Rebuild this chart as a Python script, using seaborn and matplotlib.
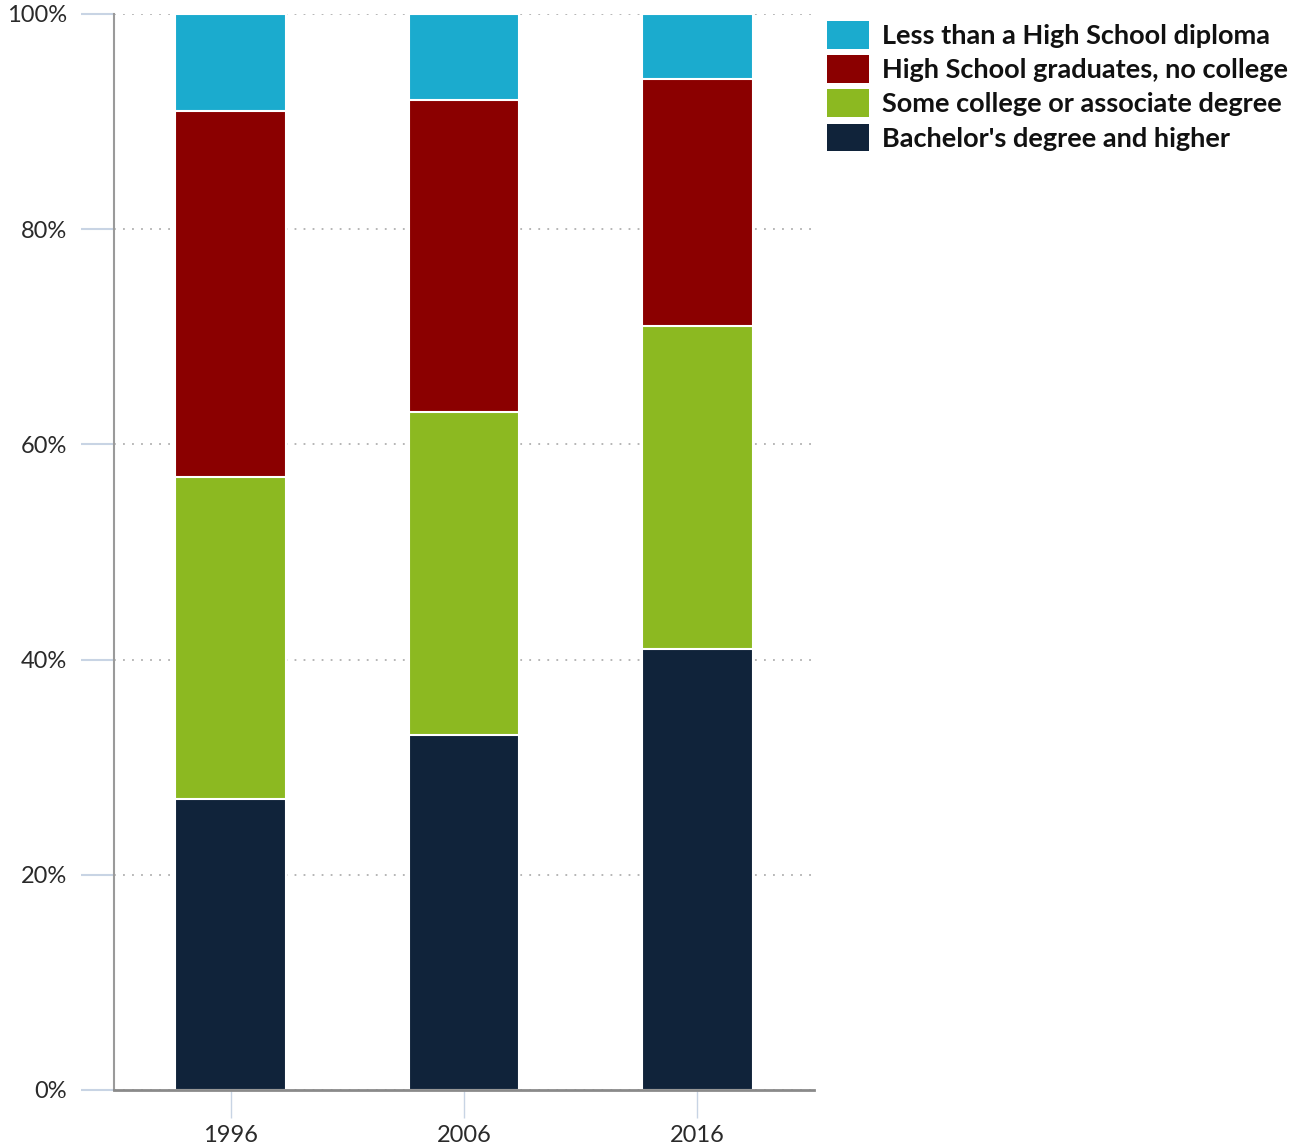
import numpy as np
import pandas as pd
import seaborn as sns
import matplotlib.pyplot as plt
from matplotlib.patches import Patch
from matplotlib.ticker import PercentFormatter

# Datos (porcentaje de cada nivel educativo por año)
years = ['1996', '2006', '2016']
categorias = ['Less than a High School diploma',
              'High School graduates, no college',
              'Some college or associate degree',
              "Bachelor's degree and higher"]
bachelor = [27, 33, 41]
some_college = [30, 30, 30]
hs_grad = [34, 29, 23]
less_hs = [9, 8, 6]
colores = ['#1babce', '#8b0000', '#8cb921', '#10233a']

sns.set_style('white')
plt.rcParams['font.family'] = ['Lato', 'DejaVu Sans']

fig = plt.figure(figsize=(13.04, 11.45), dpi=100)
ax = fig.add_axes([114 / 1304, 55 / 1145, 700 / 1304, 1076 / 1145])

# Apilar: se dibujan las sumas acumuladas de mayor a menor
capas = [bachelor, some_college, hs_grad, less_hs]
acum = np.cumsum(np.array(capas), axis=0)
orden = [3, 2, 1, 0]
for i in orden:
    df = pd.DataFrame({'year': years, 'valor': acum[i]})
    sns.barplot(data=df, x='year', y='valor', color=colores[3 - i], width=0.475,
                edgecolor='white', linewidth=1.5, saturation=1, ax=ax, zorder=2)

ax.set_xlim(-0.5, 2.5)
ax.set_ylim(0, 100)
ax.set_yticks([0, 20, 40, 60, 80, 100])
ax.yaxis.set_major_formatter(PercentFormatter(decimals=0))
ax.set_xlabel('')
ax.set_ylabel('')

ax.grid(axis='y', linestyle=(0, (1, 4)), color='#b0b0b0', linewidth=1.3, zorder=0)
ax.set_axisbelow(True)
for s in ['top', 'right']:
    ax.spines[s].set_visible(False)
ax.spines['left'].set_color('#9a9a9a')
ax.spines['left'].set_linewidth(1.5)
ax.spines['bottom'].set_color('#8a8a8a')
ax.spines['bottom'].set_linewidth(2)

ax.tick_params(axis='y', length=24, width=1.5, color='#c8d4e4', labelsize=17,
               labelcolor='#2a2a2a', pad=10, left=True)
ax.tick_params(axis='x', length=20, width=1, color='#c8d4e4', labelsize=17,
               labelcolor='#2a2a2a', pad=5, bottom=True)

handles = [Patch(facecolor=c, edgecolor='none') for c in colores]
leg = fig.legend(handles, categorias, loc='upper left',
                 bbox_to_anchor=(816 / 1304, 1 - 10 / 1145), frameon=False,
                 prop={'size': 19.5, 'weight': 'bold'}, handlelength=1.55,
                 handleheight=1.2, handletextpad=0.5, labelspacing=0.24,
                 borderaxespad=0)
for t in leg.get_texts():
    t.set_color('#111111')

plt.savefig('out.png', dpi=100)
